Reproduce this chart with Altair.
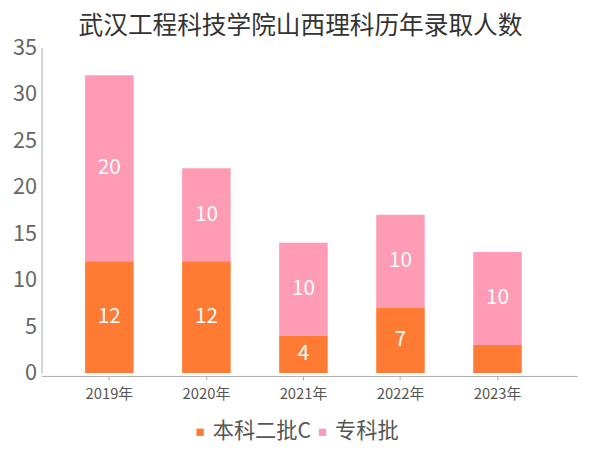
import altair as alt
import pandas as pd

years = ["2019年", "2020年", "2021年", "2022年", "2023年"]
series = ["本科二批C", "专科批"]
benke = [12, 12, 4, 7, 3]
zhuanke = [20, 10, 10, 10, 10]
colors = ["#FF7A33", "#FF9BB5"]

rows = []
for i, y in enumerate(years):
    rows.append({"year": y, "series": series[0], "value": benke[i], "ord": 0})
    rows.append({"year": y, "series": series[1], "value": zhuanke[i], "ord": 1})
df = pd.DataFrame(rows)

FONT = "Noto Sans CJK SC"

x_enc = alt.X("year:N", sort=years,
              scale=alt.Scale(paddingInner=0.5, paddingOuter=0.51, align=0.44),
              axis=alt.Axis(title=None, labelAngle=0, labelFontSize=15, labelColor="#555555",
                            labelFont=FONT, domainColor="#aaaaaa", tickColor="#aaaaaa",
                            tickSize=4, offset=3, labelPadding=7))

base = alt.Chart(df)

bars = base.mark_bar().encode(
    x=x_enc,
    y=alt.Y("sum(value):Q", stack="zero",
            scale=alt.Scale(domain=[0, 35]),
            axis=alt.Axis(title=None, values=[0, 5, 10, 15, 20, 25, 30, 35], grid=False,
                          ticks=False, labelFontSize=22, labelColor="#666666", labelFont=FONT,
                          domainColor="#aaaaaa", labelPadding=5)),
    color=alt.Color("series:N", sort=series,
                    scale=alt.Scale(domain=series, range=colors),
                    legend=alt.Legend(title=None, orient="none", direction="horizontal",
                                      legendX=150, legendY=379, symbolType="square",
                                      symbolSize=55, labelFontSize=21.5, labelColor="#555555",
                                      labelFont=FONT, columnPadding=0, symbolOffset=0,
                                      labelOffset=2, labelLimit=300)),
    order=alt.Order("ord:Q", sort="ascending"),
)

labels = base.transform_stack(
    stack="value", groupby=["year"], as_=["y0", "y1"],
    sort=[alt.SortField("ord", order="ascending")]
).transform_calculate(
    mid="(datum.y0 + datum.y1) / 2"
).transform_filter(
    "datum.value > 3"
).mark_text(color="white", fontSize=21, font=FONT, baseline="middle").encode(
    x=alt.X("year:N", sort=years),
    y=alt.Y("mid:Q"),
    text=alt.Text("value:Q"),
)

chart = alt.layer(bars, labels).properties(
    width=543, height=330,
    padding={"left": 34, "top": 37, "right": 15, "bottom": 67},
    autosize=alt.AutoSizeParams(type="none"),
    title=alt.TitleParams("武汉工程科技学院山西理科历年录取人数", fontSize=25, font=FONT,
                          color="#333333", fontWeight="normal", anchor="middle", dx=-9,
                          offset=-2),
).configure_view(stroke=None)

chart.save("out.html", embed_options={"renderer": "svg", "actions": False})
